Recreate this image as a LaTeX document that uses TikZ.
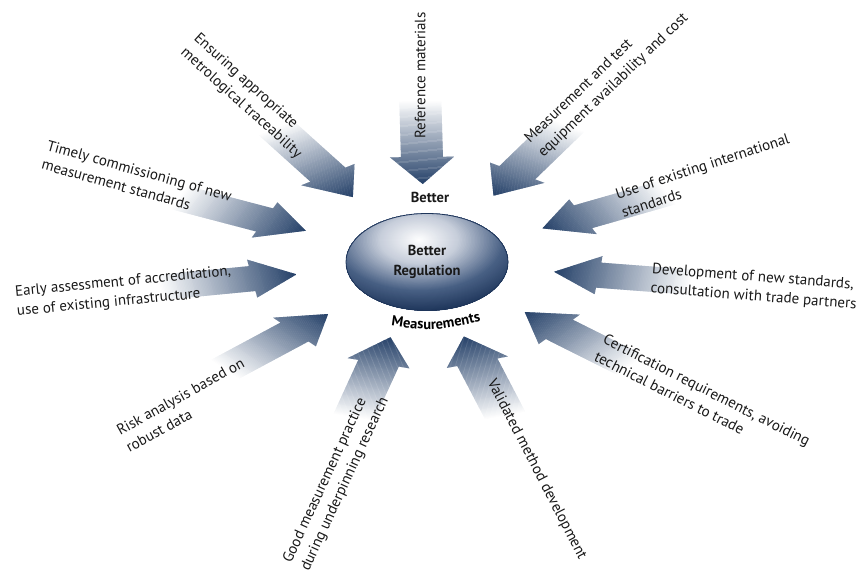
\documentclass[tikz,border=0pt]{standalone}
\usepackage{fontspec}
\setmainfont{PT Sans}
\usetikzlibrary{shapes.geometric,calc,decorations.text}
\definecolor{arrowblue}{RGB}{36,64,104}
\definecolor{ballB}{RGB}{198,205,218}
\definecolor{ballC}{RGB}{72,96,132}
\definecolor{ballE}{RGB}{30,53,90}
\definecolor{txt}{RGB}{25,25,25}
\begin{document}
\begin{tikzpicture}[x=1pt,y=1pt,
  lbl/.style={font=\fontsize{15}{19.5}\selectfont, align=left, inner sep=0pt, text=txt, anchor=north west},
  bold/.style={font=\fontsize{14.5}{20}\selectfont\bfseries, inner sep=0pt, text=txt}]
\useasboundingbox (0,0) rectangle (867,572);
% block arrows, radial in a vertically squeezed frame
\foreach \a in {91,123.7,156.4,189.1,221.8,254.6,287.4,320.1,352.8,25.5,58.2} {
  \begin{scope}[shift={(425,310)}, yscale=0.6, rotate=\a]
    \begin{scope}
      \clip (130,0) -- (175,32) -- (175,21) -- (268,21) -- (268,-21) -- (175,-21) -- (175,-32) -- cycle;
      \foreach \i in {0,...,92} {
        \pgfmathtruncatemacro\pc{100-\i*100/92}
        \fill[arrowblue!\pc!white] ({130+\i*1.5},-35) rectangle ({132+\i*1.5},35);
      }
    \end{scope}
  \end{scope}
}
% centre ellipse with off-centre highlight
\begin{scope}[shift={(427,310)}, yscale=0.6]
  \clip (0,0) circle (81);
  \foreach \r in {132,130.5,...,86} {
    \pgfmathtruncatemacro\p{min(100,(\r-85)*100/35)}
    \fill[ballE!\p!ballC] (-8,36.7) circle (\r);
  }
  \foreach \r in {85,83.5,...,41} {
    \pgfmathtruncatemacro\p{(\r-40)*100/45}
    \fill[ballC!\p!ballB] (-8,36.7) circle (\r);
  }
  \foreach \r in {40,39,...,1} {
    \pgfmathtruncatemacro\p{\r*100/40}
    \fill[ballB!\p!white] (-8,36.7) circle (\r);
  }
\end{scope}
\node[ellipse, minimum width=162pt, minimum height=97pt, draw=ballE, line width=0.8pt,
      bold, align=center] (reg) at (427,310) {Better\\Regulation};
\node[bold] (better) at (430,375) {Better};
\path[decorate, decoration={text along path, text align=center,
      text format delimiters={|}{|},
      text={|\fontsize{14.5}{16}\selectfont\bfseries|Measurements}}]
  (378,248.5) .. controls (432,240) .. (494,253.5);
% labels
\node[lbl, rotate=90] (t1) at ($(421,433)+(180:6.5)$) {Reference materials};
\node[lbl, rotate=-42] (t2) at ($(196,536)+(48:6.5)$) {Ensuring appropriate\\metrological traceability};
\node[lbl, rotate=43.8] (t3) at ($(527,431)+(133.8:6.5)$) {Measurement and test\\equipment availability and cost};
\node[lbl, rotate=18] (t4) at ($(616,377)+(108:6.5)$) {Use of existing international\\standards};
\node[lbl, rotate=-4.4] (t5) at ($(652,303)+(85.6:6.5)$) {Development of new standards,\\consultation with trade partners};
\node[lbl, rotate=-15.5] (t6) at ($(47,426)+(74.5:6.5)$) {Timely commissioning of new\\measurement standards};
\node[lbl, rotate=5.5] (t7) at ($(15,280)+(95.5:6.5)$) {Early assessment of accreditation,\\use of existing infrastructure};
\node[lbl, rotate=29] (t8) at ($(118,140)+(119:6.5)$) {Risk analysis based on\\robust data};
\node[lbl, rotate=65.2] (t9) at ($(287,10)+(155.2:6.5)$) {Good measurement practice\\during underpinning research};
\node[lbl, rotate=-62.7] (t10) at ($(491,192)+(27.3:6.5)$) {Validated method development};
\node[lbl, rotate=-26.8] (t11) at ($(604,233)+(63.2:6.5)$) {Certification requirements, avoiding\\technical barriers to trade};
\end{tikzpicture}
\end{document}
